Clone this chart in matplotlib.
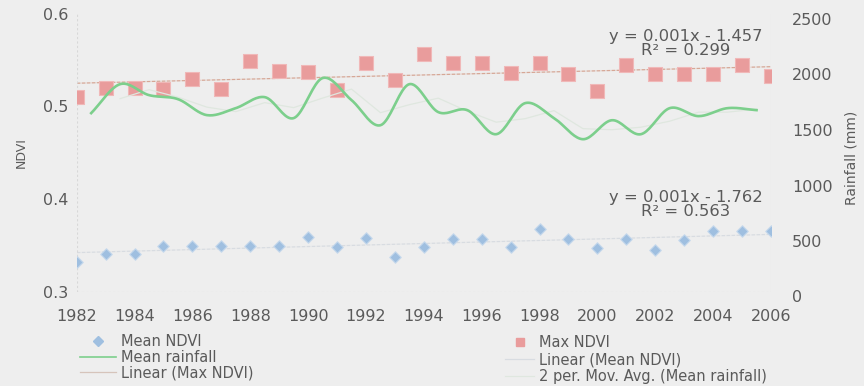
import numpy as np
import matplotlib
matplotlib.use('Agg')
import matplotlib.pyplot as plt
from matplotlib.lines import Line2D

# Annual NDVI values (scatter, left axis)
years = np.arange(1982, 2007)
mean_ndvi = [0.332, 0.341, 0.341, 0.350, 0.350, 0.350, 0.350, 0.350, 0.359, 0.349,
             0.358, 0.338, 0.348, 0.357, 0.357, 0.348, 0.368, 0.357, 0.347, 0.357,
             0.345, 0.356, 0.366, 0.366, 0.366]
max_ndvi = [0.510, 0.520, 0.520, 0.519, 0.529, 0.519, 0.549, 0.538, 0.537, 0.518,
            0.547, 0.528, 0.556, 0.547, 0.547, 0.536, 0.547, 0.535, 0.516, 0.545,
            0.535, 0.535, 0.535, 0.544, 0.533]

# Mean rainfall (mm, right axis), 24 values drawn between the year ticks
rain_years = np.arange(1982, 2006) + 0.5
mean_rain = [1652, 1913, 1814, 1778, 1634, 1697, 1796, 1607, 1968, 1769,
             1543, 1913, 1661, 1679, 1462, 1742, 1607, 1417, 1588, 1462,
             1697, 1625, 1697, 1679]

txt = '#5a5a5a'
bg = '#eeeeee'


def smooth(x, y, n=20):
    # Catmull-Rom curve through the points, like Excel's smoothed line
    x = np.asarray(x, float)
    y = np.asarray(y, float)
    px = np.concatenate([[2 * x[0] - x[1]], x, [2 * x[-1] - x[-2]]])
    py = np.concatenate([[2 * y[0] - y[1]], y, [2 * y[-1] - y[-2]]])
    t = np.linspace(0, 1, n, endpoint=False)
    xs, ys = [], []
    for i in range(1, len(px) - 2):
        for p, out in ((px, xs), (py, ys)):
            p0, p1, p2, p3 = p[i - 1], p[i], p[i + 1], p[i + 2]
            out.extend(0.5 * (2 * p1 + (-p0 + p2) * t
                              + (2 * p0 - 5 * p1 + 4 * p2 - p3) * t ** 2
                              + (-p0 + 3 * p1 - 3 * p2 + p3) * t ** 3))
    xs.append(x[-1])
    ys.append(y[-1])
    return np.array(xs), np.array(ys)


W, H = 864, 386
x0, x1 = 76.7, 771
fig = plt.figure(figsize=(8.64, 3.86), dpi=100, facecolor=bg)
ax = fig.add_axes([x0 / W, 1 - 292 / H, (x1 - x0) / W, (292 - 13.5) / H])
ax.set_facecolor(bg)
# secondary axis sits a few pixels lower than the primary one, as in the original
ax2 = fig.add_axes([x0 / W, 1 - 296.5 / H, (x1 - x0) / W, (296.5 - 19) / H], sharex=ax)
ax2.patch.set_visible(False)
ax2.yaxis.tick_right()
ax2.yaxis.set_label_position('right')
ax2.tick_params(axis='x', labelbottom=False)

# trendlines
yr = np.array(years, float)
c_max = np.polyfit(yr, max_ndvi, 1)
c_mean = np.polyfit(yr, mean_ndvi, 1)
ax.plot(yr, np.polyval(c_max, yr), color='#d6a796', lw=0.9, ls=(0, (3, 1)), zorder=2)
ax.plot(yr, np.polyval(c_mean, yr), color='#d8dce1', lw=0.9, ls=(0, (3, 1)), zorder=2)

ax.scatter(years, max_ndvi, marker='s', s=110, color='#e99c9c', edgecolors='#f0b8b8',
           linewidths=0.8, zorder=4)
ax.scatter(years, mean_ndvi, marker='D', s=34, color='#9fbfe0', edgecolors='#c5d8ec',
           linewidths=0.8, zorder=4)

# rainfall
sx, sy = smooth(rain_years, mean_rain)
ax2.plot(sx, sy, color='#7ccf8c', lw=1.9, zorder=3)
mov = np.convolve(mean_rain, [0.5, 0.5], mode='valid')
ax2.plot(rain_years[1:], mov, color='#dfe7df', lw=0.9, zorder=2)

ax.set_xlim(1982, 2006)
ax.set_ylim(0.3, 0.6)
ax2.set_ylim(0, 2500)
ax.set_xticks(range(1982, 2007, 2))
ax.set_yticks([0.3, 0.4, 0.5, 0.6])
ax.set_yticklabels(['0.3', '0.4', '0.5', '0.6'])
ax2.set_yticks([0, 500, 1000, 1500, 2000, 2500])

for a in (ax, ax2):
    a.tick_params(length=0, labelsize=11.5, colors=txt)
    for s in a.spines.values():
        s.set_visible(False)
ax.tick_params(axis='x', pad=12)
ax.tick_params(axis='y', pad=6)
ax2.tick_params(axis='y', pad=15)
ax.axvline(1982, color='#d8d8d8', lw=0.8, ls=(0, (2, 2)))
ax.axhline(0.3, color='#d8d8d8', lw=0.8, ls=(0, (2, 2)))
ax.axvline(2006, color='#e2e2e2', lw=0.8)

ax.set_ylabel('NDVI', fontsize=9, color=txt, labelpad=11)
ax2.set_ylabel('Rainfall (mm)', fontsize=10, color=txt, rotation=90, labelpad=9)

ax.text(2003.05, 0.568, 'y = 0.001x - 1.457\nR² = 0.299', ha='center', va='center',
        fontsize=11.8, color=txt, linespacing=0.9)
ax.text(2003.05, 0.394, 'y = 0.001x - 1.762\nR² = 0.563', ha='center', va='center',
        fontsize=11.8, color=txt, linespacing=0.9)

# legends
h_left = [Line2D([], [], ls='none', marker='D', ms=5, color='#9fbfe0'),
          Line2D([], [], color='#7ccf8c', lw=1.2),
          Line2D([], [], color='#d6c4bb', lw=0.9)]
h_right = [Line2D([], [], ls='none', marker='s', ms=6, color='#e99c9c'),
           Line2D([], [], color='#d8dce1', lw=0.9),
           Line2D([], [], color='#dfe7df', lw=0.9)]
kw = dict(frameon=False, fontsize=10.5, labelcolor=txt,
          handletextpad=0.3, borderpad=0, borderaxespad=0)
fig.legend(h_left, ['Mean NDVI', 'Mean rainfall', 'Linear (Max NDVI)'],
           loc='upper left', bbox_to_anchor=(80 / W, 1 - 334 / H),
           handlelength=2.5, labelspacing=0.05, **kw)
fig.legend(h_right, ['Max NDVI', 'Linear (Mean NDVI)', '2 per. Mov. Avg. (Mean rainfall)'],
           loc='upper left', bbox_to_anchor=(505 / W, 1 - 335 / H),
           handlelength=2.0, labelspacing=0.15, **kw)

fig.savefig('out.png', dpi=100, facecolor=bg)
